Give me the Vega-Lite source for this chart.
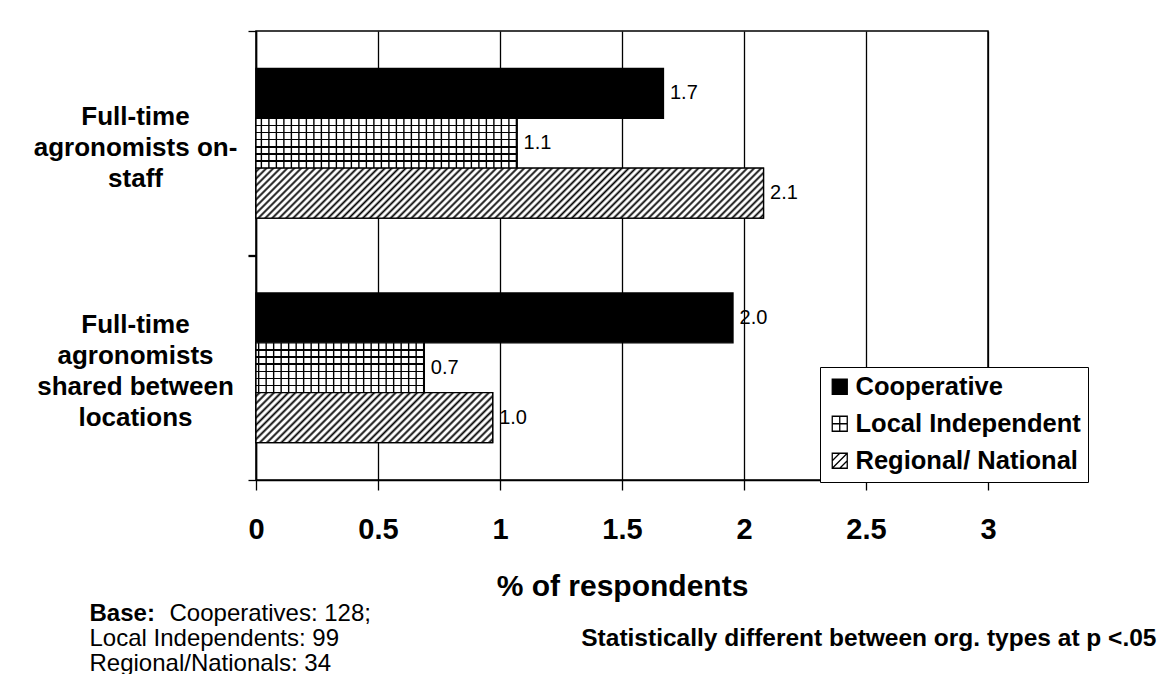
{
"$schema": "https://vega.github.io/schema/vega-lite/v6.json",
"width": 732,
"height": 449,
"autosize": {"type": "none"},
"padding": {"left": 256, "top": 31, "right": 177, "bottom": 194},
"background": "white",
"config": {"font": "Liberation Sans", "view": {"stroke": "black", "strokeWidth": 1.5}, "mark": {"aria": false}},
"data": {"values": [
{"category": "Full-time agronomists on-staff", "type": "Cooperative", "pct": 1.67},
{"category": "Full-time agronomists on-staff", "type": "Local Independent", "pct": 1.07},
{"category": "Full-time agronomists on-staff", "type": "Regional/ National", "pct": 2.08},
{"category": "Full-time agronomists shared between locations", "type": "Cooperative", "pct": 1.955},
{"category": "Full-time agronomists shared between locations", "type": "Local Independent", "pct": 0.69},
{"category": "Full-time agronomists shared between locations", "type": "Regional/ National", "pct": 0.97}
]},
"resolve": {"axis": {"x": "independent", "y": "independent"}},
"layer": [
{
"mark": {"type": "bar", "stroke": "black", "strokeWidth": 1.3},
"encoding": {
"x": {"field": "pct", "type": "quantitative", "scale": {"domain": [0, 3], "nice": false, "zero": true},
"axis": {"orient": "bottom", "values": [0, 0.5, 1, 1.5, 2, 2.5, 3], "format": "~g", "grid": true, "gridColor": "black", "gridWidth": 1.3, "gridOpacity": 1, "domainColor": "black", "domainWidth": 1.5, "tickColor": "black", "tickWidth": 1.3, "tickSize": 10, "labelFontSize": 29, "labelFontWeight": "bold", "labelColor": "black", "labelBaseline": "alphabetic", "labelPadding": 48, "labelFlush": false, "labelOverlap": false, "labelBound": false, "title": "% of respondents", "titleFontSize": 30, "titleFontWeight": "bold", "titleColor": "black", "titleBaseline": "alphabetic", "titleY": 115, "titlePadding": 0}},
"y": {"field": "category", "type": "nominal", "scale": {"domain": ["Full-time agronomists on-staff", "Full-time agronomists shared between locations"], "paddingInner": 0.33333, "paddingOuter": 0.16667},
"axis": {"orient": "left", "domainColor": "black", "domainWidth": 1.5, "ticks": false, "tickSize": 0, "grid": false, "labelExpr": "datum.value == 'Full-time agronomists on-staff' ? ['Full-time', 'agronomists on-', 'staff'] : ['Full-time', 'agronomists', 'shared between', 'locations']", "labelFontSize": 26, "labelFontWeight": "bold", "labelColor": "black", "labelAlign": "center", "labelBaseline": {"condition": {"test": "datum.value == 'Full-time agronomists on-staff'", "value": "middle"}, "value": "line-bottom"}, "labelPadding": 121, "labelLineHeight": 31, "labelOffset": -26.5, "labelLimit": 400, "title": ["\u200b\u00a0\u00a0\u00a0\u00a0\u00a0\u00a0\u00a0\u00a0\u00a0\u00a0\u00a0\u00a0Cooperatives: 128;", "Local Independents: 99", "Regional/Nationals: 34"], "titleAngle": 0, "titleAlign": "left", "titleBaseline": "alphabetic", "titleX": -167, "titleY": 589, "titleFontSize": 24, "titleFontWeight": "normal", "titleColor": "black", "titleLineHeight": 25, "titlePadding": 0}},
"yOffset": {"field": "type", "type": "nominal", "scale": {"domain": ["Cooperative", "Local Independent", "Regional/ National"]}},
"fill": {"field": "type", "type": "nominal", "scale": {"domain": ["Cooperative", "Local Independent", "Regional/ National"], "range": ["black", "white", "white"]},
"legend": {"title": null, "orient": "none", "legendX": 564, "legendY": 336, "padding": 7, "rowPadding": 10, "labelFontSize": 25.5, "labelFontWeight": "bold", "labelColor": "black", "labelFont": "Liberation Sans", "labelOffset": 3, "labelLimit": 400, "symbolSize": 225, "symbolType": "square", "symbolStrokeColor": "black", "symbolStrokeWidth": 1.3, "strokeColor": "black", "fillColor": "white",
"encode": {"symbols": {"update": {"shape": {"signal": "datum.value === 'Cooperative' ? 'square' : datum.value === 'Local Independent' ? 'M-1,-1H1V1H-1Z M0,-1V1 M-1,0H1' : 'M-1,-1H1V1H-1Z M-1,1L1,-1 M-1,0L0,-1 M0,1L1,0'"}, "stroke": {"value": "black"}, "strokeWidth": {"value": 1.3}}}}}}
}
},
{
"transform": [{"filter": "datum.type == 'Local Independent'"}],
"mark": {"type": "bar", "stroke": "black", "strokeWidth": 1.3,
"fill": {"gradient": "linear", "x1": 0, "y1": 0, "x2": 0, "y2": 1, "stops": [
{"offset": 0.12886, "color": "#fff"}, {"offset": 0.12886, "color": "#000"}, {"offset": 0.15686, "color": "#000"}, {"offset": 0.15686, "color": "#fff"},
{"offset": 0.27171, "color": "#fff"}, {"offset": 0.27171, "color": "#000"}, {"offset": 0.29971, "color": "#000"}, {"offset": 0.29971, "color": "#fff"},
{"offset": 0.41457, "color": "#fff"}, {"offset": 0.41457, "color": "#000"}, {"offset": 0.44257, "color": "#000"}, {"offset": 0.44257, "color": "#fff"},
{"offset": 0.55743, "color": "#fff"}, {"offset": 0.55743, "color": "#000"}, {"offset": 0.58543, "color": "#000"}, {"offset": 0.58543, "color": "#fff"},
{"offset": 0.70029, "color": "#fff"}, {"offset": 0.70029, "color": "#000"}, {"offset": 0.72829, "color": "#000"}, {"offset": 0.72829, "color": "#fff"},
{"offset": 0.84314, "color": "#fff"}, {"offset": 0.84314, "color": "#000"}, {"offset": 0.87114, "color": "#000"}, {"offset": 0.87114, "color": "#fff"}
]}},
"encoding": {
"x": {"field": "pct", "type": "quantitative", "axis": {"orient": "top", "labels": false, "ticks": false, "domain": false, "grid": false, "title": "Base:", "titleFontSize": 24, "titleFontWeight": "bold", "titleColor": "black", "titleAngle": 0, "titleAlign": "left", "titleBaseline": "alphabetic", "titleX": -167, "titleY": 589}},
"y": {"field": "category", "type": "nominal", "axis": {"orient": "right", "labels": false, "ticks": false, "domain": false, "grid": false, "title": "Statistically different between org. types at p <.05", "titleFontSize": 24.5, "titleFontWeight": "bold", "titleColor": "black", "titleAngle": 0, "titleAlign": "right", "titleBaseline": "alphabetic", "titleX": 168, "titleY": 614}},
"yOffset": {"field": "type", "type": "nominal"}
}
},
{
"transform": [{"filter": "datum.type == 'Local Independent'"}],
"mark": {"type": "rule", "color": "black", "strokeWidth": 50, "strokeDash": [1.4, 6.1], "strokeCap": "butt"},
"encoding": {
"x": {"field": "pct", "type": "quantitative", "axis": null},
"x2": {"datum": 0},
"y": {"field": "category", "type": "nominal", "axis": {"orient": "left", "labels": false, "domain": false, "ticks": true, "tickSize": 8, "tickOffset": -112.25, "tickColor": "black", "tickWidth": 1.3, "grid": false, "title": null}},
"yOffset": {"field": "type", "type": "nominal"}
}
},
{
"transform": [{"filter": "datum.type == 'Regional/ National'"}],
"mark": {"type": "bar", "stroke": "black", "strokeWidth": 1.3},
"encoding": {
"x": {"field": "pct", "type": "quantitative", "axis": null},
"y": {"field": "category", "type": "nominal", "axis": null},
"yOffset": {"field": "type", "type": "nominal"},
"fill": {"condition": {"test": "datum.pct > 1.5", "value": {"gradient": "linear", "x1": 0, "y1": 0, "x2": 1.0878, "y2": 0.10696, "stops": [
{"offset":0.00175,"color":"#fff"},{"offset":0.00625,"color":"#000"},{"offset":0.01075,"color":"#fff"},
{"offset":0.01425,"color":"#fff"},{"offset":0.01875,"color":"#000"},{"offset":0.02325,"color":"#fff"},
{"offset":0.02675,"color":"#fff"},{"offset":0.03125,"color":"#000"},{"offset":0.03575,"color":"#fff"},
{"offset":0.03925,"color":"#fff"},{"offset":0.04375,"color":"#000"},{"offset":0.04825,"color":"#fff"},
{"offset":0.05175,"color":"#fff"},{"offset":0.05625,"color":"#000"},{"offset":0.06075,"color":"#fff"},
{"offset":0.06425,"color":"#fff"},{"offset":0.06875,"color":"#000"},{"offset":0.07325,"color":"#fff"},
{"offset":0.07675,"color":"#fff"},{"offset":0.08125,"color":"#000"},{"offset":0.08575,"color":"#fff"},
{"offset":0.08925,"color":"#fff"},{"offset":0.09375,"color":"#000"},{"offset":0.09825,"color":"#fff"},
{"offset":0.10175,"color":"#fff"},{"offset":0.10625,"color":"#000"},{"offset":0.11075,"color":"#fff"},
{"offset":0.11425,"color":"#fff"},{"offset":0.11875,"color":"#000"},{"offset":0.12325,"color":"#fff"},
{"offset":0.12675,"color":"#fff"},{"offset":0.13125,"color":"#000"},{"offset":0.13575,"color":"#fff"},
{"offset":0.13925,"color":"#fff"},{"offset":0.14375,"color":"#000"},{"offset":0.14825,"color":"#fff"},
{"offset":0.15175,"color":"#fff"},{"offset":0.15625,"color":"#000"},{"offset":0.16075,"color":"#fff"},
{"offset":0.16425,"color":"#fff"},{"offset":0.16875,"color":"#000"},{"offset":0.17325,"color":"#fff"},
{"offset":0.17675,"color":"#fff"},{"offset":0.18125,"color":"#000"},{"offset":0.18575,"color":"#fff"},
{"offset":0.18925,"color":"#fff"},{"offset":0.19375,"color":"#000"},{"offset":0.19825,"color":"#fff"},
{"offset":0.20175,"color":"#fff"},{"offset":0.20625,"color":"#000"},{"offset":0.21075,"color":"#fff"},
{"offset":0.21425,"color":"#fff"},{"offset":0.21875,"color":"#000"},{"offset":0.22325,"color":"#fff"},
{"offset":0.22675,"color":"#fff"},{"offset":0.23125,"color":"#000"},{"offset":0.23575,"color":"#fff"},
{"offset":0.23925,"color":"#fff"},{"offset":0.24375,"color":"#000"},{"offset":0.24825,"color":"#fff"},
{"offset":0.25175,"color":"#fff"},{"offset":0.25625,"color":"#000"},{"offset":0.26075,"color":"#fff"},
{"offset":0.26425,"color":"#fff"},{"offset":0.26875,"color":"#000"},{"offset":0.27325,"color":"#fff"},
{"offset":0.27675,"color":"#fff"},{"offset":0.28125,"color":"#000"},{"offset":0.28575,"color":"#fff"},
{"offset":0.28925,"color":"#fff"},{"offset":0.29375,"color":"#000"},{"offset":0.29825,"color":"#fff"},
{"offset":0.30175,"color":"#fff"},{"offset":0.30625,"color":"#000"},{"offset":0.31075,"color":"#fff"},
{"offset":0.31425,"color":"#fff"},{"offset":0.31875,"color":"#000"},{"offset":0.32325,"color":"#fff"},
{"offset":0.32675,"color":"#fff"},{"offset":0.33125,"color":"#000"},{"offset":0.33575,"color":"#fff"},
{"offset":0.33925,"color":"#fff"},{"offset":0.34375,"color":"#000"},{"offset":0.34825,"color":"#fff"},
{"offset":0.35175,"color":"#fff"},{"offset":0.35625,"color":"#000"},{"offset":0.36075,"color":"#fff"},
{"offset":0.36425,"color":"#fff"},{"offset":0.36875,"color":"#000"},{"offset":0.37325,"color":"#fff"},
{"offset":0.37675,"color":"#fff"},{"offset":0.38125,"color":"#000"},{"offset":0.38575,"color":"#fff"},
{"offset":0.38925,"color":"#fff"},{"offset":0.39375,"color":"#000"},{"offset":0.39825,"color":"#fff"},
{"offset":0.40175,"color":"#fff"},{"offset":0.40625,"color":"#000"},{"offset":0.41075,"color":"#fff"},
{"offset":0.41425,"color":"#fff"},{"offset":0.41875,"color":"#000"},{"offset":0.42325,"color":"#fff"},
{"offset":0.42675,"color":"#fff"},{"offset":0.43125,"color":"#000"},{"offset":0.43575,"color":"#fff"},
{"offset":0.43925,"color":"#fff"},{"offset":0.44375,"color":"#000"},{"offset":0.44825,"color":"#fff"},
{"offset":0.45175,"color":"#fff"},{"offset":0.45625,"color":"#000"},{"offset":0.46075,"color":"#fff"},
{"offset":0.46425,"color":"#fff"},{"offset":0.46875,"color":"#000"},{"offset":0.47325,"color":"#fff"},
{"offset":0.47675,"color":"#fff"},{"offset":0.48125,"color":"#000"},{"offset":0.48575,"color":"#fff"},
{"offset":0.48925,"color":"#fff"},{"offset":0.49375,"color":"#000"},{"offset":0.49825,"color":"#fff"},
{"offset":0.50175,"color":"#fff"},{"offset":0.50625,"color":"#000"},{"offset":0.51075,"color":"#fff"},
{"offset":0.51425,"color":"#fff"},{"offset":0.51875,"color":"#000"},{"offset":0.52325,"color":"#fff"},
{"offset":0.52675,"color":"#fff"},{"offset":0.53125,"color":"#000"},{"offset":0.53575,"color":"#fff"},
{"offset":0.53925,"color":"#fff"},{"offset":0.54375,"color":"#000"},{"offset":0.54825,"color":"#fff"},
{"offset":0.55175,"color":"#fff"},{"offset":0.55625,"color":"#000"},{"offset":0.56075,"color":"#fff"},
{"offset":0.56425,"color":"#fff"},{"offset":0.56875,"color":"#000"},{"offset":0.57325,"color":"#fff"},
{"offset":0.57675,"color":"#fff"},{"offset":0.58125,"color":"#000"},{"offset":0.58575,"color":"#fff"},
{"offset":0.58925,"color":"#fff"},{"offset":0.59375,"color":"#000"},{"offset":0.59825,"color":"#fff"},
{"offset":0.60175,"color":"#fff"},{"offset":0.60625,"color":"#000"},{"offset":0.61075,"color":"#fff"},
{"offset":0.61425,"color":"#fff"},{"offset":0.61875,"color":"#000"},{"offset":0.62325,"color":"#fff"},
{"offset":0.62675,"color":"#fff"},{"offset":0.63125,"color":"#000"},{"offset":0.63575,"color":"#fff"},
{"offset":0.63925,"color":"#fff"},{"offset":0.64375,"color":"#000"},{"offset":0.64825,"color":"#fff"},
{"offset":0.65175,"color":"#fff"},{"offset":0.65625,"color":"#000"},{"offset":0.66075,"color":"#fff"},
{"offset":0.66425,"color":"#fff"},{"offset":0.66875,"color":"#000"},{"offset":0.67325,"color":"#fff"},
{"offset":0.67675,"color":"#fff"},{"offset":0.68125,"color":"#000"},{"offset":0.68575,"color":"#fff"},
{"offset":0.68925,"color":"#fff"},{"offset":0.69375,"color":"#000"},{"offset":0.69825,"color":"#fff"},
{"offset":0.70175,"color":"#fff"},{"offset":0.70625,"color":"#000"},{"offset":0.71075,"color":"#fff"},
{"offset":0.71425,"color":"#fff"},{"offset":0.71875,"color":"#000"},{"offset":0.72325,"color":"#fff"},
{"offset":0.72675,"color":"#fff"},{"offset":0.73125,"color":"#000"},{"offset":0.73575,"color":"#fff"},
{"offset":0.73925,"color":"#fff"},{"offset":0.74375,"color":"#000"},{"offset":0.74825,"color":"#fff"},
{"offset":0.75175,"color":"#fff"},{"offset":0.75625,"color":"#000"},{"offset":0.76075,"color":"#fff"},
{"offset":0.76425,"color":"#fff"},{"offset":0.76875,"color":"#000"},{"offset":0.77325,"color":"#fff"},
{"offset":0.77675,"color":"#fff"},{"offset":0.78125,"color":"#000"},{"offset":0.78575,"color":"#fff"},
{"offset":0.78925,"color":"#fff"},{"offset":0.79375,"color":"#000"},{"offset":0.79825,"color":"#fff"},
{"offset":0.80175,"color":"#fff"},{"offset":0.80625,"color":"#000"},{"offset":0.81075,"color":"#fff"},
{"offset":0.81425,"color":"#fff"},{"offset":0.81875,"color":"#000"},{"offset":0.82325,"color":"#fff"},
{"offset":0.82675,"color":"#fff"},{"offset":0.83125,"color":"#000"},{"offset":0.83575,"color":"#fff"},
{"offset":0.83925,"color":"#fff"},{"offset":0.84375,"color":"#000"},{"offset":0.84825,"color":"#fff"},
{"offset":0.85175,"color":"#fff"},{"offset":0.85625,"color":"#000"},{"offset":0.86075,"color":"#fff"},
{"offset":0.86425,"color":"#fff"},{"offset":0.86875,"color":"#000"},{"offset":0.87325,"color":"#fff"},
{"offset":0.87675,"color":"#fff"},{"offset":0.88125,"color":"#000"},{"offset":0.88575,"color":"#fff"},
{"offset":0.88925,"color":"#fff"},{"offset":0.89375,"color":"#000"},{"offset":0.89825,"color":"#fff"},
{"offset":0.90175,"color":"#fff"},{"offset":0.90625,"color":"#000"},{"offset":0.91075,"color":"#fff"},
{"offset":0.91425,"color":"#fff"},{"offset":0.91875,"color":"#000"},{"offset":0.92325,"color":"#fff"},
{"offset":0.92675,"color":"#fff"},{"offset":0.93125,"color":"#000"},{"offset":0.93575,"color":"#fff"},
{"offset":0.93925,"color":"#fff"},{"offset":0.94375,"color":"#000"},{"offset":0.94825,"color":"#fff"},
{"offset":0.95175,"color":"#fff"},{"offset":0.95625,"color":"#000"},{"offset":0.96075,"color":"#fff"},
{"offset":0.96425,"color":"#fff"},{"offset":0.96875,"color":"#000"},{"offset":0.97325,"color":"#fff"},
{"offset":0.97675,"color":"#fff"},{"offset":0.98125,"color":"#000"},{"offset":0.98575,"color":"#fff"},
{"offset":0.98925,"color":"#fff"},{"offset":0.99375,"color":"#000"},{"offset":0.99825,"color":"#fff"}
]}},
"value": {"gradient": "linear", "x1": 0, "y1": 0, "x2": 1.15931, "y2": 0.24443, "stops": [
{"offset":0.0035,"color":"#fff"},{"offset":0.0125,"color":"#000"},{"offset":0.0215,"color":"#fff"},
{"offset":0.0285,"color":"#fff"},{"offset":0.0375,"color":"#000"},{"offset":0.0465,"color":"#fff"},
{"offset":0.0535,"color":"#fff"},{"offset":0.0625,"color":"#000"},{"offset":0.0715,"color":"#fff"},
{"offset":0.0785,"color":"#fff"},{"offset":0.0875,"color":"#000"},{"offset":0.0965,"color":"#fff"},
{"offset":0.1035,"color":"#fff"},{"offset":0.1125,"color":"#000"},{"offset":0.1215,"color":"#fff"},
{"offset":0.1285,"color":"#fff"},{"offset":0.1375,"color":"#000"},{"offset":0.1465,"color":"#fff"},
{"offset":0.1535,"color":"#fff"},{"offset":0.1625,"color":"#000"},{"offset":0.1715,"color":"#fff"},
{"offset":0.1785,"color":"#fff"},{"offset":0.1875,"color":"#000"},{"offset":0.1965,"color":"#fff"},
{"offset":0.2035,"color":"#fff"},{"offset":0.2125,"color":"#000"},{"offset":0.2215,"color":"#fff"},
{"offset":0.2285,"color":"#fff"},{"offset":0.2375,"color":"#000"},{"offset":0.2465,"color":"#fff"},
{"offset":0.2535,"color":"#fff"},{"offset":0.2625,"color":"#000"},{"offset":0.2715,"color":"#fff"},
{"offset":0.2785,"color":"#fff"},{"offset":0.2875,"color":"#000"},{"offset":0.2965,"color":"#fff"},
{"offset":0.3035,"color":"#fff"},{"offset":0.3125,"color":"#000"},{"offset":0.3215,"color":"#fff"},
{"offset":0.3285,"color":"#fff"},{"offset":0.3375,"color":"#000"},{"offset":0.3465,"color":"#fff"},
{"offset":0.3535,"color":"#fff"},{"offset":0.3625,"color":"#000"},{"offset":0.3715,"color":"#fff"},
{"offset":0.3785,"color":"#fff"},{"offset":0.3875,"color":"#000"},{"offset":0.3965,"color":"#fff"},
{"offset":0.4035,"color":"#fff"},{"offset":0.4125,"color":"#000"},{"offset":0.4215,"color":"#fff"},
{"offset":0.4285,"color":"#fff"},{"offset":0.4375,"color":"#000"},{"offset":0.4465,"color":"#fff"},
{"offset":0.4535,"color":"#fff"},{"offset":0.4625,"color":"#000"},{"offset":0.4715,"color":"#fff"},
{"offset":0.4785,"color":"#fff"},{"offset":0.4875,"color":"#000"},{"offset":0.4965,"color":"#fff"},
{"offset":0.5035,"color":"#fff"},{"offset":0.5125,"color":"#000"},{"offset":0.5215,"color":"#fff"},
{"offset":0.5285,"color":"#fff"},{"offset":0.5375,"color":"#000"},{"offset":0.5465,"color":"#fff"},
{"offset":0.5535,"color":"#fff"},{"offset":0.5625,"color":"#000"},{"offset":0.5715,"color":"#fff"},
{"offset":0.5785,"color":"#fff"},{"offset":0.5875,"color":"#000"},{"offset":0.5965,"color":"#fff"},
{"offset":0.6035,"color":"#fff"},{"offset":0.6125,"color":"#000"},{"offset":0.6215,"color":"#fff"},
{"offset":0.6285,"color":"#fff"},{"offset":0.6375,"color":"#000"},{"offset":0.6465,"color":"#fff"},
{"offset":0.6535,"color":"#fff"},{"offset":0.6625,"color":"#000"},{"offset":0.6715,"color":"#fff"},
{"offset":0.6785,"color":"#fff"},{"offset":0.6875,"color":"#000"},{"offset":0.6965,"color":"#fff"},
{"offset":0.7035,"color":"#fff"},{"offset":0.7125,"color":"#000"},{"offset":0.7215,"color":"#fff"},
{"offset":0.7285,"color":"#fff"},{"offset":0.7375,"color":"#000"},{"offset":0.7465,"color":"#fff"},
{"offset":0.7535,"color":"#fff"},{"offset":0.7625,"color":"#000"},{"offset":0.7715,"color":"#fff"},
{"offset":0.7785,"color":"#fff"},{"offset":0.7875,"color":"#000"},{"offset":0.7965,"color":"#fff"},
{"offset":0.8035,"color":"#fff"},{"offset":0.8125,"color":"#000"},{"offset":0.8215,"color":"#fff"},
{"offset":0.8285,"color":"#fff"},{"offset":0.8375,"color":"#000"},{"offset":0.8465,"color":"#fff"},
{"offset":0.8535,"color":"#fff"},{"offset":0.8625,"color":"#000"},{"offset":0.8715,"color":"#fff"},
{"offset":0.8785,"color":"#fff"},{"offset":0.8875,"color":"#000"},{"offset":0.8965,"color":"#fff"},
{"offset":0.9035,"color":"#fff"},{"offset":0.9125,"color":"#000"},{"offset":0.9215,"color":"#fff"},
{"offset":0.9285,"color":"#fff"},{"offset":0.9375,"color":"#000"},{"offset":0.9465,"color":"#fff"},
{"offset":0.9535,"color":"#fff"},{"offset":0.9625,"color":"#000"},{"offset":0.9715,"color":"#fff"},
{"offset":0.9785,"color":"#fff"},{"offset":0.9875,"color":"#000"},{"offset":0.9965,"color":"#fff"}
]}}
}
},
{
"mark": {"type": "text", "align": "left", "baseline": "middle", "dx": 6.5, "fontSize": 20, "color": "black", "font": "Liberation Sans"},
"encoding": {
"x": {"field": "pct", "type": "quantitative", "axis": null},
"y": {"field": "category", "type": "nominal", "axis": {"orient": "left", "labels": false, "domain": false, "ticks": true, "tickSize": 8, "tickOffset": 112.25, "tickColor": "black", "tickWidth": 1.3, "grid": false, "title": null}},
"yOffset": {"field": "type", "type": "nominal"},
"text": {"field": "pct", "type": "quantitative", "format": ".1f"}
}
}
]
}
